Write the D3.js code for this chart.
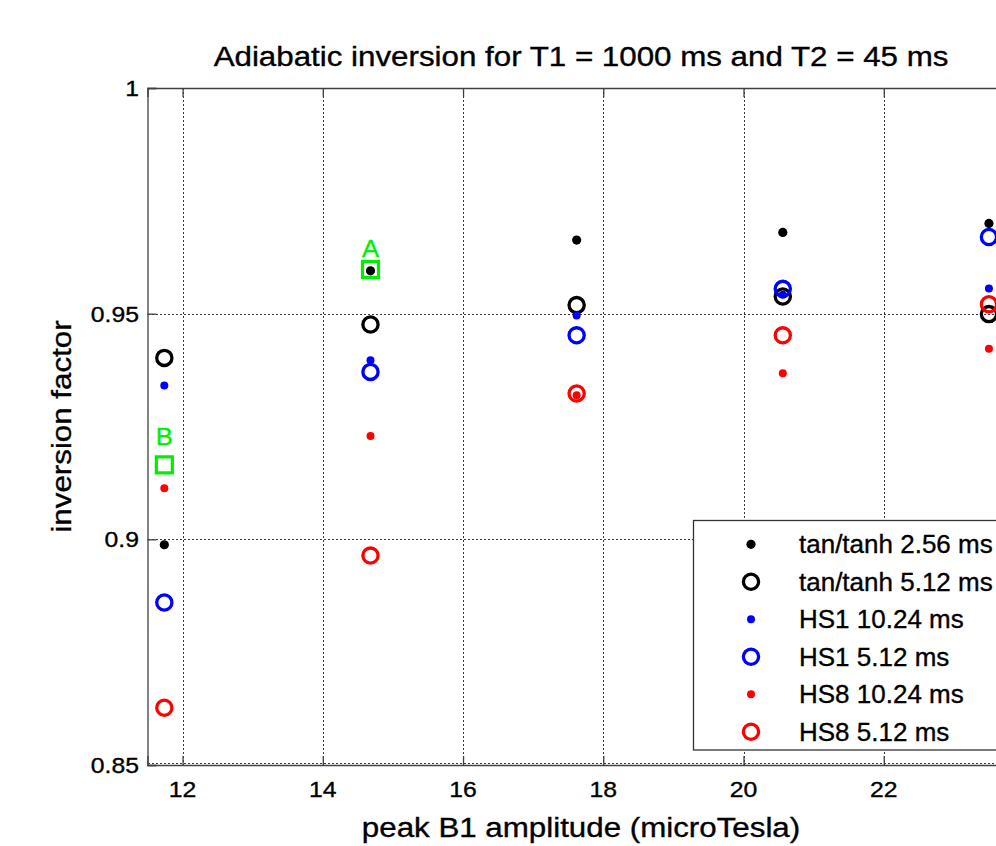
<!DOCTYPE html>
<html>
<head>
<meta charset="utf-8">
<script src="https://cdn.jsdelivr.net/npm/d3@7"></script>
<style>
  html, body { margin: 0; padding: 0; background: #fff; }
  svg { display: block; font-family: "Liberation Sans", Arial, sans-serif; }
  text { stroke-width: 0.35px; paint-order: stroke; }
</style>
</head>
<body>
<svg id="chart" width="996" height="846"></svg>
<script>
// Peak B1 amplitude (microTesla) for each simulated pulse setting
const b1Amplitude = [11.74, 14.68, 17.62, 20.56, 23.50];

// Inversion factor per pulse type / duration
const tanTanh256 = [0.8988, 0.9595, 0.9663, 0.9680, 0.9700];
const tanTanh512 = [0.9402, 0.9476, 0.9519, 0.9538, 0.9499];
const hs1_1024   = [0.9341, 0.9397, 0.9496, 0.9542, 0.9556];
const hs1_512    = [0.8860, 0.9371, 0.9452, 0.9555, 0.9670];
const hs8_1024   = [0.9113, 0.9229, 0.9319, 0.9368, 0.9422];
const hs8_512    = [0.8627, 0.8964, 0.9323, 0.9452, 0.9521];

const seriesNames = ["tan/tanh 2.56 ms", "tan/tanh 5.12 ms", "HS1 10.24 ms",
                     "HS1 5.12 ms", "HS8 10.24 ms", "HS8 5.12 ms"];

// Highlighted operating points
const markLabels = ["A", "B"];
const markX      = [14.68, 11.74];
const markY      = [0.9598, 0.9165];
const markLabelY = [0.9646, 0.9228];

// Axis ticks
const xTicks = [12, 14, 16, 18, 20, 22];
const yTicks = [0.85, 0.9, 0.95, 1];
const yTickLabels = ["0.85", "0.9", "0.95", "1"];

// ---- styling for each series (dot = filled point, ring = open circle)
const seriesStyle = [
  { color: "#000000", kind: "dot",  r: 4.6 },
  { color: "#000000", kind: "ring", r: 7.6 },
  { color: "#0000ff", kind: "dot",  r: 4.0 },
  { color: "#0000ff", kind: "ring", r: 7.6 },
  { color: "#ff0000", kind: "dot",  r: 4.0 },
  { color: "#ff0000", kind: "ring", r: 7.6 }
];
const seriesValues = [tanTanh256, tanTanh512, hs1_1024, hs1_512, hs8_1024, hs8_512];

const svg = d3.select("#chart");
const plot = { left: 147.5, right: 1024, top: 88, bottom: 765 };
const labelFont = 27, labelStretch = 1.16;   // glyphs are drawn slightly wide

const x = d3.scaleLinear().domain([11.5, 24]).range([plot.left, plot.right]);
const y = d3.scaleLinear().domain([0.85, 1]).range([plot.bottom, plot.top]);

svg.append("rect").attr("x", 0).attr("y", 0).attr("width", 996).attr("height", 846).attr("fill", "#fff");

// dotted grid (the bottom row sits just above the axis line)
const grid = svg.append("g").attr("stroke", "#3a3a3a").attr("stroke-width", 1)
  .attr("stroke-dasharray", "2,2").attr("shape-rendering", "crispEdges");
grid.selectAll("line.gx").data(xTicks).join("line").attr("class", "gx")
  .attr("x1", d => Math.round(x(d)) + 0.5).attr("x2", d => Math.round(x(d)) + 0.5)
  .attr("y1", plot.top).attr("y2", plot.bottom);
grid.selectAll("line.gy").data(yTicks).join("line").attr("class", "gy")
  .attr("y1", d => Math.round(y(d)) + (d === 0.85 ? -1.5 : 0.5))
  .attr("y2", d => Math.round(y(d)) + (d === 0.85 ? -1.5 : 0.5))
  .attr("x1", plot.left).attr("x2", plot.right);

// axes with inward ticks (box style)
const axisColor = "#404040";
const xAxisB = d3.axisBottom(x).tickValues(xTicks).tickSize(-9).tickFormat("");
const xAxisT = d3.axisTop(x).tickValues(xTicks).tickSize(-9).tickFormat("");
const yAxisL = d3.axisLeft(y).tickValues(yTicks).tickSize(-9).tickFormat("");
const yAxisR = d3.axisRight(y).tickValues(yTicks).tickSize(-9).tickFormat("");

function styleAxis(g) {
  g.selectAll("path, line").attr("stroke", axisColor).attr("stroke-width", 1.3);
  g.selectAll("path").attr("fill", "none");
}
svg.append("g").attr("transform", `translate(0,${plot.bottom})`).call(xAxisB).call(styleAxis);
svg.append("g").attr("transform", `translate(0,${plot.top})`).call(xAxisT).call(styleAxis);
svg.append("g").attr("transform", `translate(${plot.left},0)`).call(yAxisL).call(styleAxis);
svg.append("g").attr("transform", `translate(${plot.right},0)`).call(yAxisR).call(styleAxis);

// tick labels
const tickFont = 22.5, tickStretch = 1.1;
svg.append("g").selectAll("text").data(xTicks).join("text")
  .attr("transform", d => `translate(${x(d)},797) scale(${tickStretch},1)`)
  .attr("text-anchor", "middle").attr("font-size", tickFont).attr("fill", "#000").attr("stroke", "#000")
  .text(d => d);
svg.append("g").selectAll("text").data(yTicks).join("text")
  .attr("transform", d => `translate(139,${y(d) + 8}) scale(${tickStretch},1)`)
  .attr("text-anchor", "end").attr("font-size", tickFont).attr("fill", "#000").attr("stroke", "#000")
  .text((d, i) => yTickLabels[i]);

// title and axis labels
svg.append("text")
  .attr("transform", `translate(581,66) scale(${labelStretch},1)`)
  .attr("text-anchor", "middle").attr("font-size", labelFont).attr("fill", "#000").attr("stroke", "#000")
  .text("Adiabatic inversion for T1 = 1000 ms and T2 = 45 ms");
svg.append("text")
  .attr("transform", `translate(581,837) scale(${labelStretch},1)`)
  .attr("text-anchor", "middle").attr("font-size", labelFont).attr("fill", "#000").attr("stroke", "#000")
  .text("peak B1 amplitude (microTesla)");
svg.append("text")
  .attr("transform", `translate(71,${(plot.top + plot.bottom) / 2}) rotate(-90) scale(${labelStretch},1)`)
  .attr("text-anchor", "middle").attr("font-size", labelFont).attr("fill", "#000").attr("stroke", "#000")
  .text("inversion factor");

const marks = svg.append("g");

function drawMarker(g, st, cx, cy) {
  if (st.kind === "dot") {
    g.append("circle").attr("cx", cx).attr("cy", cy).attr("r", st.r).attr("fill", st.color);
  } else {
    g.append("circle").attr("cx", cx).attr("cy", cy).attr("r", st.r)
      .attr("fill", "none").attr("stroke", st.color).attr("stroke-width", 3.3);
  }
}

// highlighted points: green squares with letter labels
const green = "#00ee00";
marks.selectAll("rect.hl").data(markLabels).join("rect").attr("class", "hl")
  .attr("x", (d, i) => x(markX[i]) - 8).attr("y", (d, i) => y(markY[i]) - 8)
  .attr("width", 16).attr("height", 16)
  .attr("fill", "none").attr("stroke", green).attr("stroke-width", 3.2);
marks.selectAll("text.hl").data(markLabels).join("text").attr("class", "hl")
  .attr("transform", (d, i) => `translate(${x(markX[i])},${y(markLabelY[i]) + 9}) scale(1.05,1)`)
  .attr("text-anchor", "middle").attr("font-size", 24.5).attr("fill", green).attr("stroke", green)
  .text(d => d);

// data series
seriesValues.forEach((vals, s) => {
  const g = marks.append("g");
  vals.forEach((v, i) => drawMarker(g, seriesStyle[s], x(b1Amplitude[i]), y(v)));
});

// legend
const legend = svg.append("g");
const lg = { x: 693.5, y: 520.5, w: 330, h: 229.5, row0: 544.3, rowStep: 37.5, markX: 751, textX: 799 };
legend.append("rect").attr("x", lg.x).attr("y", lg.y).attr("width", lg.w).attr("height", lg.h)
  .attr("fill", "#fff").attr("stroke", "#333").attr("stroke-width", 1.3);
seriesNames.forEach((name, i) => {
  const cy = lg.row0 + i * lg.rowStep;
  drawMarker(legend, seriesStyle[i], lg.markX, cy);
  legend.append("text")
    .attr("transform", `translate(${lg.textX},${cy + 9}) scale(1.02,1)`)
    .attr("font-size", 25.5).attr("fill", "#000").attr("stroke", "#000").text(name);
});
</script>
</body>
</html>
